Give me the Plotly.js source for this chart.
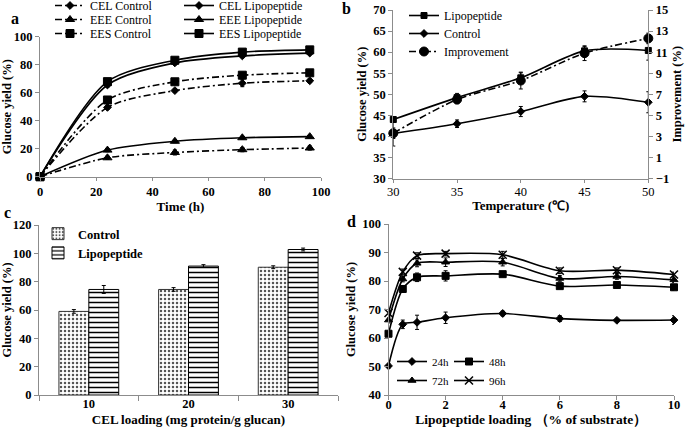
<!DOCTYPE html>
<html>
<head>
<meta charset="utf-8">
<script src="https://cdn.plot.ly/plotly-3.0.1.min.js"></script>
<style>html,body{margin:0;padding:0;background:#fff}#chart{width:685px;height:429px}</style>
</head>
<body>
<div id="chart"></div>
<script>
// ---------- Panel a: time course ----------
const timeH = [0, 24, 48, 72, 96];
const celControl = [0, 49.5, 61.5, 66.8, 68.5];
const eeeControl = [0, 13.5, 17.3, 19.3, 20.5];
const eesControl = [0, 54.8, 67.8, 72.5, 74.2];
const celLipo = [0, 65.5, 81.3, 86.3, 88.3];
const eeeLipo = [0, 19.0, 25.3, 27.8, 28.6];
const eesLipo = [0, 67.9, 83.2, 89.0, 90.6];
const celControlErr = [0, 1.5, 1.2, 2.5, 1.3];
const eeeControlErr = [0, 1.2, 1.8, 1.5, 1.5];
const eesControlErr = [0, 2.0, 1.0, 2.0, 1.0];
const celLipoErr = [0, 1.5, 1.0, 1.0, 1.0];
const eeeLipoErr = [0, 1.2, 1.0, 1.0, 1.0];
const eesLipoErr = [0, 1.5, 1.0, 1.0, 1.0];

// ---------- Panel b: temperature ----------
const temperature = [30, 35, 40, 45, 50];
const tempLipo = [44.0, 49.2, 53.9, 60.3, 60.4];
const tempControl = [40.7, 43.0, 45.9, 49.5, 48.1];
const tempImprove = [3.3, 6.5, 8.3, 10.9, 12.3];
const tempLipoErr = [0.5, 1.0, 1.2, 1.0, 2.3];
const tempControlErr = [3.0, 0.9, 1.2, 1.3, 2.5];
const tempImproveErr = [0.5, 0.4, 0.8, 0.7, 0.5];

// ---------- Panel c: CEL loading ----------
const celLoading = ['10', '20', '30'];
const loadControl = [59.0, 74.5, 90.2];
const loadLipo = [74.5, 91.0, 102.7];
const loadControlErr = [1.3, 1.3, 1.0];
const loadLipoErr = [2.8, 1.0, 1.0];

// ---------- Panel d: lipopeptide loading ----------
const lipoLoading = [0, 0.5, 1, 2, 4, 6, 8, 10];
const h24 = [50.2, 64.8, 65.5, 67.1, 68.6, 66.8, 66.2, 66.3];
const h48 = [61.5, 77.2, 81.3, 81.8, 82.4, 78.2, 78.6, 77.8];
const h72 = [66.3, 80.7, 86.2, 86.6, 86.6, 80.9, 81.6, 80.4];
const h96 = [68.8, 83.2, 88.9, 89.6, 89.2, 83.6, 83.8, 82.3];
const h24Err = [0.8, 1.5, 2.5, 2.0, 0.8, 1.0, 0.4, 1.5];
const h48Err = [0.6, 1.0, 1.5, 1.8, 0.8, 0.8, 0.5, 1.0];
const h72Err = [1.0, 1.0, 1.2, 1.5, 1.3, 1.0, 1.0, 1.0];
const h96Err = [0.6, 1.0, 1.0, 0.8, 1.2, 1.0, 0.8, 0.8];

const FONT = 'Liberation Serif, Times New Roman, serif';
const BLACK = '#000';
const DASHDOT = '7px,3px,2px,3px';

function err(arr) { return {type: 'data', array: arr, visible: true, color: BLACK, thickness: 1, width: 2}; }
function line(x, y, e, name, sym, dash, xa, ya, leg, msize) {
  return {
    type: 'scatter', mode: 'lines+markers', x: x, y: y, name: name,
    xaxis: xa, yaxis: ya, legend: leg, cliponaxis: false,
    line: {color: BLACK, width: 1.6, dash: dash, shape: 'spline', smoothing: 0.8},
    marker: {symbol: sym, size: msize || 7, color: BLACK, line: {color: BLACK, width: 1}},
    error_y: err(e)
  };
}

const traces = [
  // panel a
  line(timeH, celControl, celControlErr, 'CEL Control', 'diamond', DASHDOT, 'x', 'y', 'legend', 6),
  line(timeH, eeeControl, eeeControlErr, 'EEE Control', 'triangle-up', DASHDOT, 'x', 'y', 'legend2', 8),
  line(timeH, eesControl, eesControlErr, 'EES Control', 'square', DASHDOT, 'x', 'y', 'legend3', 8),
  line(timeH, celLipo, celLipoErr, 'CEL Lipopeptide', 'diamond', 'solid', 'x', 'y', 'legend4', 6),
  line(timeH, eeeLipo, eeeLipoErr, 'EEE Lipopeptide', 'triangle-up', 'solid', 'x', 'y', 'legend5', 8),
  line(timeH, eesLipo, eesLipoErr, 'EES Lipopeptide', 'square', 'solid', 'x', 'y', 'legend6', 8),
  // panel b
  line(temperature, tempLipo, tempLipoErr, 'Lipopeptide', 'square', 'solid', 'x2', 'y2', 'legend7', 6),
  line(temperature, tempControl, tempControlErr, 'Control', 'diamond', 'solid', 'x2', 'y2', 'legend8', 6),
  line(temperature, tempImprove, tempImproveErr, 'Improvement', 'circle', DASHDOT, 'x2', 'y3', 'legend9', 9),
  // panel c
  {type: 'bar', x: celLoading, y: loadControl, name: 'Control', xaxis: 'x3', yaxis: 'y4', legend: 'legend10',
   marker: {color: '#ffffff', line: {color: '#333', width: 1}, pattern: {shape: '.', fgcolor: '#555', bgcolor: '#fff', size: 4, solidity: 0.3}},
   error_y: err(loadControlErr)},
  {type: 'bar', x: celLoading, y: loadLipo, name: 'Lipopeptide', xaxis: 'x3', yaxis: 'y4', legend: 'legend10',
   marker: {color: '#ffffff', line: {color: '#000', width: 1}, pattern: {shape: '-', fgcolor: '#000', bgcolor: '#fff', size: 5, solidity: 0.3}},
   error_y: err(loadLipoErr)},
  // panel d
  line(lipoLoading, h24, h24Err, '24h', 'diamond', 'solid', 'x4', 'y5', 'legend11', 6),
  line(lipoLoading, h48, h48Err, '48h', 'square', 'solid', 'x4', 'y5', 'legend12', 7),
  line(lipoLoading, h72, h72Err, '72h', 'triangle-up', 'solid', 'x4', 'y5', 'legend13', 7),
  line(lipoLoading, h96, h96Err, '96h', 'x-thin', 'solid', 'x4', 'y5', 'legend14', 8)
];
traces[traces.length - 1].marker.line.width = 1.5;

const W = 685, H = 429;
function dx(a, b) { return [a / W, b / W]; }
function dy(top, bottom) { return [1 - bottom / H, 1 - top / H]; }

const tickFont = {family: FONT, size: 12.5, color: BLACK, weight: 'bold'};
const yTitleFont = {family: FONT, size: 12.5, color: BLACK, weight: 'bold'};
const xTitleFont = {family: FONT, size: 13, color: BLACK, weight: 'bold'};
function axis(extra) {
  return Object.assign({
    showgrid: false, zeroline: false, showline: true, linecolor: '#8c8c8c', linewidth: 1,
    ticks: 'outside', ticklen: 4, tickcolor: '#8c8c8c', tickfont: tickFont,
    automargin: false, fixedrange: true
  }, extra);
}
function leg(x, y, size, bold) {
  return {
    x: x / W, y: 1 - y / H, xanchor: 'left', yanchor: 'top', bgcolor: 'rgba(0,0,0,0)',
    borderwidth: 0, font: {family: FONT, size: size, color: BLACK, weight: bold ? 'bold' : 'normal'},
    itemwidth: 30, tracegroupgap: 0
  };
}
function letter(t, x, y) {
  return {text: t, x: x / W, y: 1 - y / H, xref: 'paper', yref: 'paper', xanchor: 'center', yanchor: 'middle',
    showarrow: false, font: {family: FONT, size: 16, weight: 'bold', color: BLACK}};
}

const layout = {
  width: W, height: H, margin: {l: 0, r: 0, t: 0, b: 0, autoexpand: false},
  paper_bgcolor: '#fff', plot_bgcolor: '#fff',
  font: {family: FONT, color: BLACK},
  barmode: 'group', bargap: 0.4, bargroupgap: 0,
  xaxis: axis({domain: dx(40, 321), range: [0, 100], dtick: 20, anchor: 'y', ticklen: 3, ticklabelstandoff: 0,
    title: {text: 'Time (h)', font: xTitleFont, standoff: 0}}),
  yaxis: axis({domain: dy(36.7, 176.7), range: [0, 100], dtick: 20, anchor: 'x',
    title: {text: 'Glucose yield (%)', font: yTitleFont, standoff: 2}}),
  xaxis2: axis({domain: dx(393.3, 648.3), range: [30, 50], dtick: 5, anchor: 'y2', ticklen: 3, ticklabelstandoff: -2,
    tickfont: {family: FONT, size: 12.5, color: BLACK},
    title: {text: 'Temperature (℃)', font: xTitleFont, standoff: 0}}),
  yaxis2: axis({domain: dy(10, 178.5), range: [30, 70], dtick: 5, anchor: 'x2',
    title: {text: 'Glucose yield (%)', font: yTitleFont, standoff: 3}}),
  yaxis3: axis({domain: dy(10, 178.5), range: [-1, 15], tick0: -1, dtick: 2, anchor: 'x2', overlaying: 'y2', side: 'right',
    title: {text: 'Improvement (%)', font: yTitleFont, standoff: 4}}),
  xaxis3: axis({domain: dx(39, 338), anchor: 'y4', type: 'category', tickson: 'boundaries', ticklen: 5, ticklabelstandoff: -3,
    title: {text: 'CEL loading (mg protein/g glucan)', font: xTitleFont, standoff: 4}}),
  yaxis4: axis({domain: dy(225, 395), range: [0, 120], dtick: 20, anchor: 'x3',
    title: {text: 'Glucose yield (%)', font: yTitleFont, standoff: 3}}),
  xaxis4: axis({domain: dx(388.5, 674), range: [0, 10], dtick: 2, anchor: 'y5', ticklabelstandoff: -6,
    title: {text: 'Lipopeptide loading （% of substrate）', font: {family: FONT, size: 13.5, color: BLACK, weight: 'bold'}, standoff: 3}}),
  yaxis5: axis({domain: dy(224, 395), range: [40, 100], dtick: 10, anchor: 'x4',
    title: {text: 'Glucose yield (%)', font: yTitleFont, standoff: 3}}),
  // panel a legends (two columns)
  legend: leg(50, -9, 12, false),
  legend2: leg(50, 5, 12, false),
  legend3: leg(50, 19, 12, false),
  legend4: leg(179, -9, 12, false),
  legend5: leg(179, 5, 12, false),
  legend6: leg(179, 19, 12, false),
  // panel b legends
  legend7: leg(404, 1, 12, false),
  legend8: leg(404, 19, 12, false),
  legend9: leg(404, 37, 12, false),
  // panel c legend
  legend10: leg(38, 219, 12.5, true),
  // panel d legends (2 x 2)
  legend11: leg(392, 347, 11, false),
  legend12: leg(449, 347, 11, false),
  legend13: leg(392, 366, 11, false),
  legend14: leg(449, 366, 11, false),
  showlegend: true,
  annotations: [letter('a', 15, 19), letter('b', 346, 8), letter('c', 7, 213), letter('d', 351, 221)]
};

Plotly.newPlot('chart', traces, layout, {displayModeBar: false, staticPlot: true});
</script>
</body>
</html>
